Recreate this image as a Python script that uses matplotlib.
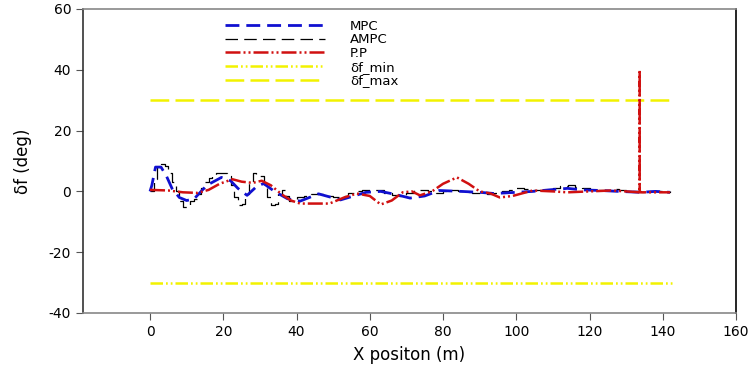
import numpy as np
import matplotlib
matplotlib.use("Agg")
import matplotlib.pyplot as plt

plt.rcParams["font.family"] = ["DejaVu Sans"]
plt.rcParams["axes.unicode_minus"] = False

# MPC (blue)
mpc_x = [0, 0.5, 1.5, 3, 4.5, 6, 8, 10, 12, 15.5, 19.5, 22, 24, 26.5, 29, 31, 34, 37.5,
         41, 46, 52, 59, 63, 67, 71, 75, 79, 85, 90, 94, 100, 104.5, 109, 114, 118, 123,
         128, 134, 138, 142]
mpc_y = [0, 2, 8, 8, 5, 1, -2, -3, -2.5, 2, 4.6, 3.5, 1, -1.3, 1.5, 2.6, 0, -2.4,
         -3.2, -0.8, -2.8, -0.3, 0, -1, -2.2, -1.5, 0.3, 0, -0.3, -0.7, -0.3, 0, 0.5, 1, 0.5, 0.3,
         0, -0.3, 0, -0.3]

# AMPC (black, step-like)
ampc_x = [0, 1, 2, 3, 4, 5, 6, 7, 8, 9, 10, 11, 12, 13, 14, 15, 16, 17, 18, 19, 20,
          21, 22, 23, 24, 25, 26, 27, 28, 29, 30, 31, 32, 33, 34, 35, 36, 37, 38, 39, 40,
          42, 44, 46, 48, 50, 52, 54, 56, 58, 60, 62, 64, 66, 68, 70, 72, 74, 76, 78, 80,
          82, 84, 86, 88, 90, 92, 94, 96, 98, 100, 102, 104, 106, 108, 110, 112, 114, 116,
          118, 120, 122, 124, 126, 128, 130, 132, 134, 136, 138, 140, 142]
ampc_y = [0, 4, 8, 9, 8.5, 6, 3, 0, -3, -5, -4.5, -3, -2.5, -1, 1, 3, 4.5, 5.5, 6, 6.2, 6,
          5, 2, -2, -4.5, -4, -1, 3, 6, 5.5, 5, 1, -2, -4.5, -4, -1, 0.5, -1.5, -3, -2.5, -2,
          -1.5, -1, -1, -1.5, -2, -1.5, -0.5, 0, 0.3, 0.5, 0.3, -0.5, -1.3, -1.5, -0.5, 0.5,
          0.5, 0, -0.5, 0, 0.3, 0, -0.3, -0.5, -0.5, -0.8, -0.5, 0, 0.5, 1, 0.8, 0.5, 0.3,
          0.5, 1, 1.8, 2, 1.5, 1, 0.5, 0.3, 0.5, 0.8, 0.3, 0, 0, -0.3, 0, 0, -0.2, 0]

# P.P (red)
pp_x = [0, 5, 9, 13, 16, 19, 22.5, 25, 28, 30.5, 33, 36, 38.5, 41, 45, 49, 53, 56.5, 60,
        63, 66, 69, 71.5, 73.7, 77, 80, 83.8, 87, 90, 93, 95.5, 99, 104.5, 110, 114, 120,
        126, 130, 133.7, 133.7, 133.7, 136, 142]
pp_y = [0.5, 0.3, -0.3, -0.5, 0.5, 2.5, 4, 3.2, 2.8, 3.5, 2, -1, -3, -4, -4, -4, -2, -0.7,
        -1.5, -4.3, -3, -0.3, 0, -1.3, 0, 2.5, 4.6, 2.5, 0, -0.7, -2, -1.5, 0.3, 0, -0.3, 0,
        0.3, 0, -0.3, 40, -0.3, -0.3, -0.3]

lim_x = [0, 143]
df_min = [-30, -30]
df_max = [30, 30]

xticks = [0, 20, 40, 60, 80, 100, 120, 140, 160]
yticks = [-40, -20, 0, 20, 40, 60]

fig = plt.figure(figsize=(7.54, 3.68), dpi=100)
ax = fig.add_axes([83 / 754, 1 - 313 / 368, (736 - 83) / 754, (313 - 9) / 368])

yellow = "#f2f200"
ax.plot(mpc_x, mpc_y, color="#1010d0", lw=2.0, ls=(0, (5, 2.5)), label="MPC", zorder=4)
ax.plot(ampc_x, ampc_y, color="black", lw=0.9, ls=(0, (10, 5)), drawstyle="steps-post",
        label="AMPC", zorder=3)
ax.plot(pp_x, pp_y, color="#d01010", lw=1.8, ls=(0, (6, 1.2, 0.8, 1.2, 0.8, 1.2)),
        label="P.P", zorder=5)
ax.plot(lim_x, df_min, color=yellow, lw=1.8, ls=(0, (5, 1.2, 0.7, 1.2, 0.7, 1.2)),
        label="δf_min")
ax.plot(lim_x, df_max, color=yellow, lw=1.8, ls=(0, (7.5, 2.5)), label="δf_max")

ax.set_xlim(-18.3, 160)
ax.set_ylim(-40, 60)
ax.set_xticks(xticks)
ax.set_yticks(yticks)
ax.tick_params(axis="both", labelsize=10, length=5, color="#555555", direction="out")
ax.spines["left"].set_color("#333333")
ax.spines["right"].set_color("black")
ax.spines["top"].set_color("#888888")
ax.spines["bottom"].set_color("#888888")
for s in ax.spines.values():
    s.set_linewidth(1.2)

ax.set_xlabel("X positon (m)", fontsize=12, labelpad=5)
ax.set_ylabel("δf (deg)", fontsize=12, labelpad=12)

ax.legend(loc="upper left", bbox_to_anchor=(218 / 754, 1 - 13 / 368),
          bbox_transform=fig.transFigure, frameon=False, fontsize=9.5,
          handlelength=7.6, handletextpad=1.9, labelspacing=0.05, borderpad=0)

fig.savefig("out.png", dpi=100)
